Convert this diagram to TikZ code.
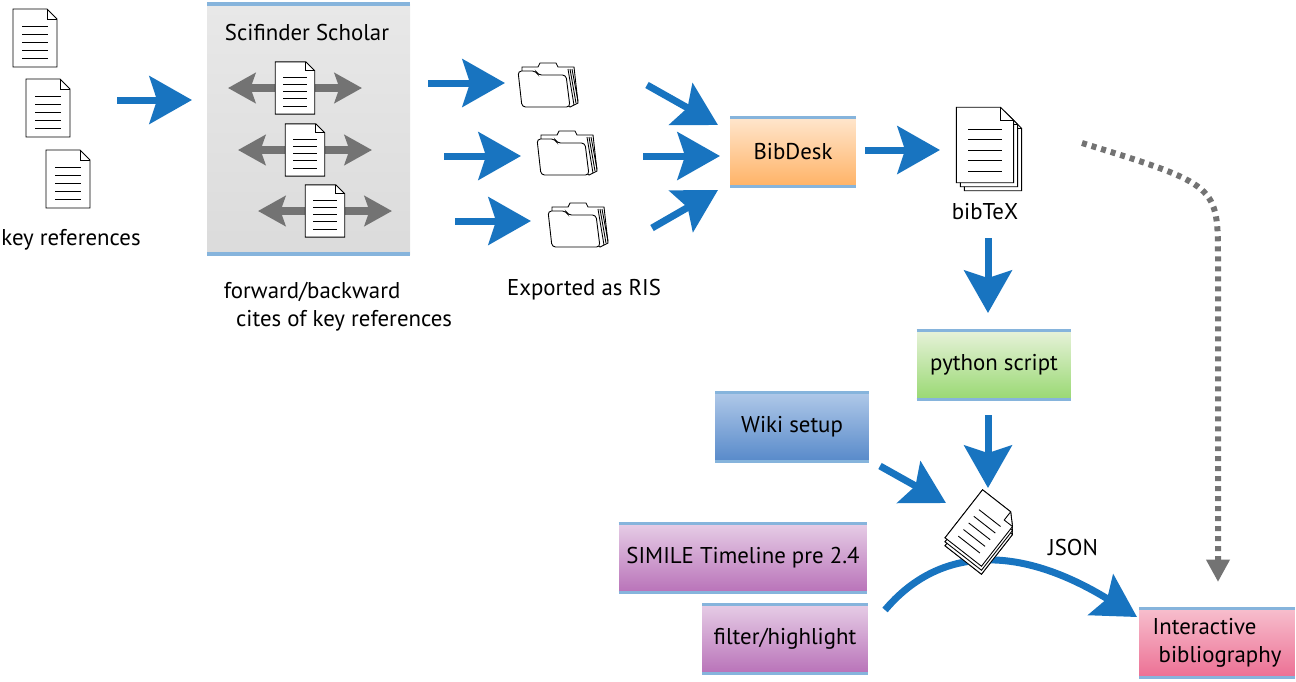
\documentclass[tikz,border=0pt]{standalone}
\usepackage{fontspec}
\setmainfont{PT Sans}
\usepackage{xcolor}
\usetikzlibrary{positioning,arrows.meta}
\definecolor{flowblue}{HTML}{1874C0}
\definecolor{barblue}{HTML}{86B4DC}
\tikzset{
  doc/.pic={
    \draw[fill=white, line width=0.5pt] (-22,-29) -- (12,-29) -- (22,-19) -- (22,29) -- (-22,29) -- cycle;
    \draw[line width=0.5pt] (12,-29) -- (12,-19) -- (22,-19);
    \foreach \y in {-12,-4,...,24} \draw[line width=0.5pt] (-13,\y) -- (13,\y);
  },
  folder/.pic={
    \draw[fill=white, line width=0.5pt] (-26,-14) -- (-26,-18) -- (-10,-18) -- (-8,-22) -- (8,-22) -- (10,-18) -- (26,-18) -- (30,18) -- (22,22) -- cycle;
    \foreach \d in {0,2,4} \draw[line width=0.5pt] (20+\d,-16) -- (26+\d,20-\d);
    \draw[fill=white, line width=0.5pt, rounded corners=2pt] (-30,-14) -- (-12,-14) -- (-10,-10) -- (18,-10) -- (22,22) -- (-26,22) -- cycle;
  },
  flow/.style={flowblue, line width=0.14cm, -{Stealth[length=0.85cm, width=0.95cm, inset=0.15cm]}},
  cite/.style={black!55, line width=0.16cm, {Stealth[length=0.55cm, width=0.6cm, inset=0.1cm]}-{Stealth[length=0.55cm, width=0.6cm, inset=0.1cm]}},
  bar/.style={barblue, line width=0.07cm},
  box/.style={minimum width=#1, minimum height=1.36cm, inner sep=0pt,
    append after command={(\tikzlastnode.north west) edge[bar] (\tikzlastnode.north east)
      (\tikzlastnode.south west) edge[bar] (\tikzlastnode.south east)}},
  every node/.style={font=\fontsize{13}{16}\selectfont}
}

\begin{document}
\begin{tikzpicture}[x=0.02cm, y=-0.02cm]
  \useasboundingbox (0,0) rectangle (1296,681);

  % key references
  \pic at (35,38) {doc};
  \pic at (48,108) {doc};
  \pic at (68,179) {doc};
  \node (keyrefs) at (71,240) {key references};

  % Scifinder
  \shade[top color=gray!18, middle color=gray!42, bottom color=gray!28] (207,4) rectangle (410,254);
  \draw[bar] (207,4) -- (410,4);
  \draw[bar] (207,254) -- (410,254);
  \node (scifinder) at (307,32) {Scifinder Scholar};
  \coordinate (c1l) at (228,88);  \coordinate (c1r) at (362,88);
  \coordinate (c2l) at (238,150); \coordinate (c2r) at (372,150);
  \coordinate (c3l) at (258,211); \coordinate (c3r) at (392,211);
  \draw[cite] (c1l) -- (c1r);
  \draw[cite] (c2l) -- (c2r);
  \draw[cite] (c3l) -- (c3r);
  \pic[scale=0.9] at (295,88) {doc};
  \pic[scale=0.9] at (305,150) {doc};
  \pic[scale=0.9] at (325,211) {doc};
  \node[align=left] (cites) at (338,307) {forward/backward\\\ \ cites of key references};

  % exported as RIS
  \pic at (548,85) {folder};
  \pic at (567,153) {folder};
  \pic at (578,225) {folder};
  \node (ris) at (584,290) {Exported as RIS};

  % boxes
  \node[box=2.5cm, top color=orange!20, bottom color=orange!60] (bibdesk) at (793,152) {BibDesk};
  \node[box=3.08cm, top color=green!30!olive!15, bottom color=green!45!olive!55] (python) at (994,365) {python script};
  \node[box=3.06cm, top color={rgb,255:red,175;green,200;blue,232}, bottom color={rgb,255:red,88;green,138;blue,202}] (wiki) at (792,427) {Wiki setup};
  \node[box=4.96cm, top color=violet!20, bottom color=violet!55] (simile) at (743,558) {SIMILE Timeline pre 2.4};
  \node[box=3.3cm, top color=violet!20, bottom color=violet!55] (filter) at (785,639) {filter/highlight};
  \node[box=3.1cm, align=left, top color={rgb,255:red,247;green,190;blue,205}, bottom color={rgb,255:red,236;green,112;blue,148}] (interactive) at (1217,643) {Interactive\\\ bibliography};

  % bibTeX stack
  \pic[scale=1.3] at (993,153) {doc};
  \pic[scale=1.3] at (989,149) {doc};
  \pic[scale=1.3] at (985,145) {doc};
  \node (bibtex) at (985,212) {bibTeX};

  % JSON
  \foreach \d in {8,4,0}
    \pic[rotate=-38, scale=1.05] at (982,528+\d) {doc};
  \node (json) at (1073,547) {JSON};

  % arrows
  \coordinate (a0s) at (117,100); \coordinate (a0e) at (192,100);
  \coordinate (a1s) at (428,83);  \coordinate (a1e) at (505,83);
  \coordinate (a2s) at (444,156); \coordinate (a2e) at (521,156);
  \coordinate (a3s) at (455,221); \coordinate (a3e) at (531,221);
  \coordinate (b1s) at (647,85);  \coordinate (b1e) at (718,125);
  \coordinate (b2s) at (643,156); \coordinate (b2e) at (720,156);
  \coordinate (b3s) at (652,228); \coordinate (b3e) at (718,190);
  \coordinate (d0s) at (865,150); \coordinate (d0e) at (940,150);
  \coordinate (p0s) at (988,238); \coordinate (p0e) at (988,313);
  \coordinate (p1s) at (988,415); \coordinate (p1e) at (988,488);
  \coordinate (w0s) at (880,466); \coordinate (w0e) at (946,503);
  \coordinate (j0s) at (885,610); \coordinate (j0e) at (1137,617);
  \coordinate (t0s) at (1082,143); \coordinate (t0e) at (1218,582);
  \draw[flow] (a0s) -- (a0e);
  \draw[flow] (a1s) -- (a1e);
  \draw[flow] (a2s) -- (a2e);
  \draw[flow] (a3s) -- (a3e);
  \draw[flow] (b1s) -- (b1e);
  \draw[flow] (b2s) -- (b2e);
  \draw[flow] (b3s) -- (b3e);
  \draw[flow] (d0s) -- (d0e);
  \draw[flow] (p0s) -- (p0e);
  \draw[flow] (p1s) -- (p1e);
  \draw[flow] (w0s) -- (w0e);
  \draw[flow] (j0s) .. controls (940,545) and (1020,545) .. (j0e);
  \foreach \d in {8,4,0}
    \pic[rotate=-38, scale=1.05] at (982,528+\d) {doc};
  \draw[black!55, line width=0.12cm, dash pattern=on 0.1cm off 0.1cm, -{Triangle[length=0.45cm, width=0.45cm]}]
    (t0s) .. controls (1218,185) .. (1218,260) -- (t0e);
\end{tikzpicture}
\end{document}
